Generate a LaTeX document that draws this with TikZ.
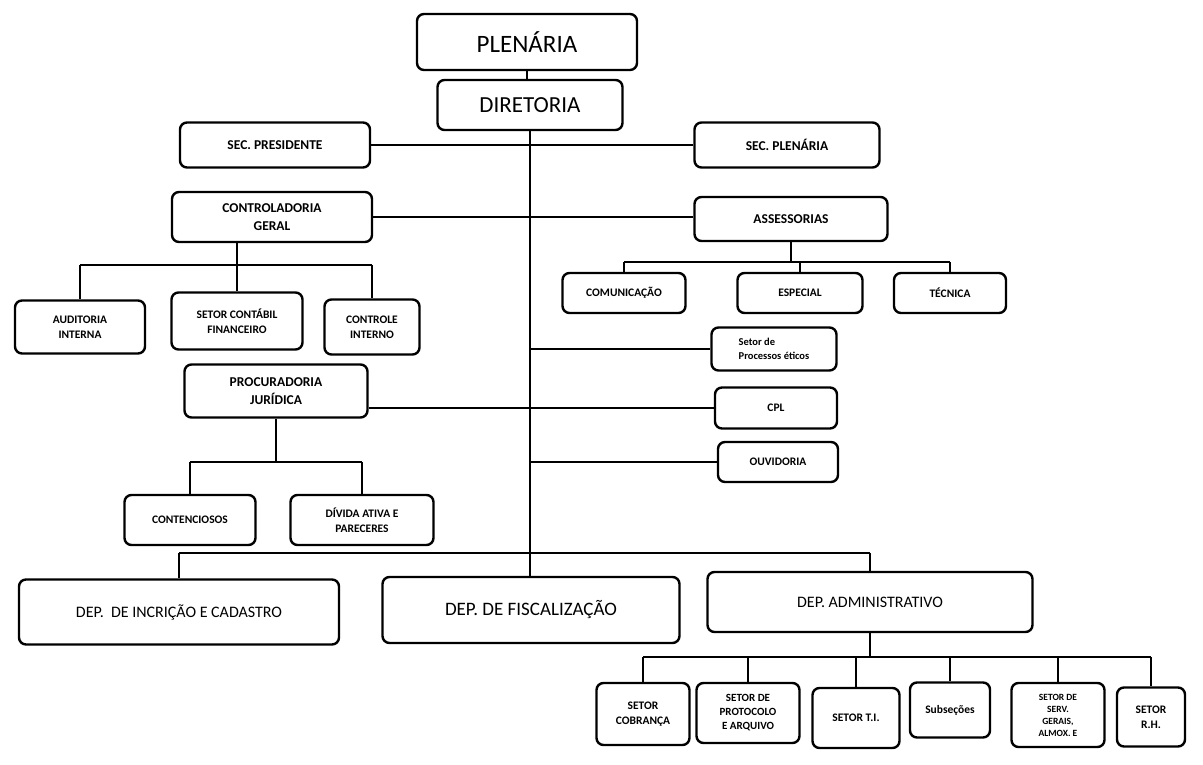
\documentclass[tikz,border=0pt]{standalone}
\usepackage{fontspec}
\setmainfont{Carlito}
\usetikzlibrary{calc}

\begin{document}
\begin{tikzpicture}[x=1pt,y=-1pt,
    box/.style={draw, line width=2.4pt, rounded corners=7pt, align=center, inner sep=1pt},
    sz/.style 2 args={minimum width=#1pt, minimum height=#2pt},
    big/.style={box, font=\fontsize{25}{28}\selectfont},
    dep/.style={box, font=\fontsize{16}{19}\selectfont},
    sm/.style={box, font=\bfseries\fontsize{13.5}{18}\selectfont},
    tiny/.style={box, font=\bfseries\fontsize{11.5}{15}\selectfont},
    conn/.style={line width=2.8pt}]%
  \useasboundingbox (0,0) rectangle (1203,764);%
  % topo
  \node[big, sz={220}{56}] (plen) at (527,42) {PLENÁRIA};%
  \node[big, sz={185}{50}, font=\fontsize{23}{26}\selectfont] (dir) at (530,105) {DIRETORIA};%
  \node[sm, sz={190}{45}] (secpres) at (275,145) {SEC. PRESIDENTE};%
  \node[sm, sz={185}{45}] (secplen) at (787,145) {SEC. PLENÁRIA};%
  \node[sm, sz={200}{50}] (contr) at (272,217) {CONTROLADORIA\\GERAL};%
  \node[sm, sz={193}{44}] (asses) at (791,219) {ASSESSORIAS};%
  % controladoria
  \node[tiny, sz={130}{53}] (aud) at (80,327) {AUDITORIA\\INTERNA};%
  \node[tiny, sz={131}{57}] (scf) at (237,321) {SETOR CONTÁBIL\\FINANCEIRO};%
  \node[tiny, sz={95}{55}] (ctrl) at (372,327) {CONTROLE\\INTERNO};%
  % assessorias
  \node[tiny, sz={123}{40}] (com) at (624,293) {COMUNICAÇÃO};%
  \node[tiny, sz={125}{40}] (esp) at (800,293) {ESPECIAL};%
  \node[tiny, sz={112}{40}] (tec) at (950,293) {TÉCNICA};%
  % setores ligados a diretoria
  \node[tiny, sz={125}{43}, align=left, font=\bfseries\fontsize{10.5}{14}\selectfont] (pet) at (774,349) {Setor de\\Processos éticos};%
  \node[tiny, sz={122}{41}] (cpl) at (776,408) {CPL};%
  \node[tiny, sz={120}{40}] (ouv) at (778,462) {OUVIDORIA};%
  % procuradoria
  \node[sm, sz={183}{53}] (proc) at (276,391) {PROCURADORIA\\JURÍDICA};%
  \node[tiny, sz={131}{50}] (cont) at (190,520) {CONTENCIOSOS};%
  \node[tiny, sz={143}{50}] (div) at (362,520) {DÍVIDA ATIVA E\\PARECERES};%
  % departamentos
  \node[dep, sz={320}{65}] (dinc) at (179,612) {DEP.\ \ DE INCRIÇÃO E CADASTRO};%
  \node[dep, sz={297}{66}, font=\fontsize{19}{22}\selectfont] (dfisc) at (531,610) {DEP. DE FISCALIZAÇÃO};%
  \node[dep, sz={325}{60}] (dadm) at (870,602) {DEP. ADMINISTRATIVO};%
  % setores do dep. administrativo
  \node[tiny, sz={93}{62}] (cob) at (643,714) {SETOR\\COBRANÇA};%
  \node[tiny, sz={103}{60}, font=\bfseries\fontsize{11}{14}\selectfont] (prot) at (748,713) {SETOR DE\\PROTOCOLO\\E ARQUIVO};%
  \node[tiny, sz={87}{60}] (ti) at (856,718) {SETOR T.I.};%
  \node[tiny, sz={80}{55}] (sub) at (950,710) {Subseções};%
  \node[tiny, sz={93}{64}, font=\bfseries\fontsize{9.5}{12}\selectfont] (serv) at (1058,715) {SETOR DE\\SERV.\\GERAIS,\\ALMOX. E};%
  \node[tiny, sz={68}{59}] (rh) at (1151,717) {SETOR\\R.H.};%
  % ligacoes
  \coordinate (bcg) at (237,265);%
  \coordinate (bas) at (800,262);%
  \coordinate (bpj) at (276,462);%
  \coordinate (bdep) at (530,553);%
  \coordinate (badm) at (870,657);%
  \draw[conn] (plen.south) -- (plen.south |- dir.north);%
  \draw[conn] (dir.south) -- (dir.south |- dfisc.north);%
  \draw[conn] (secpres.east) -- (secplen.west);%
  \draw[conn] (contr.east) -- (contr.east -| asses.west);%
  \draw[conn] (proc.east |- cpl.west) -- (cpl.west);%
  \foreach \n in {pet,ouv} \draw[conn] (dir.south |- \n.west) -- (\n.west);%
  % controladoria
  \draw[conn] (bcg |- contr.south) -- (bcg);%
  \draw[conn] (aud.north |- bcg) -- (ctrl.north |- bcg);%
  \foreach \n in {aud,scf,ctrl} \draw[conn] (\n.north |- bcg) -- (\n.north);%
  % assessorias
  \draw[conn] (asses.south) -- (asses.south |- bas);%
  \draw[conn] (com.north |- bas) -- (tec.north |- bas);%
  \foreach \n in {com,esp,tec} \draw[conn] (\n.north |- bas) -- (\n.north);%
  % procuradoria
  \draw[conn] (proc.south) -- (proc.south |- bpj);%
  \draw[conn] (cont.north |- bpj) -- (div.north |- bpj);%
  \foreach \n in {cont,div} \draw[conn] (\n.north |- bpj) -- (\n.north);%
  % departamentos
  \draw[conn] (dinc.north |- bdep) -- (dadm.north |- bdep);%
  \foreach \n in {dinc,dadm} \draw[conn] (\n.north |- bdep) -- (\n.north);%
  \draw[conn] (dadm.south) -- (badm);%
  \draw[conn] (cob.north |- badm) -- (rh.north |- badm);%
  \foreach \n in {cob,prot,ti,sub,serv,rh} \draw[conn] (\n.north |- badm) -- (\n.north);%
\end{tikzpicture}
\end{document}
